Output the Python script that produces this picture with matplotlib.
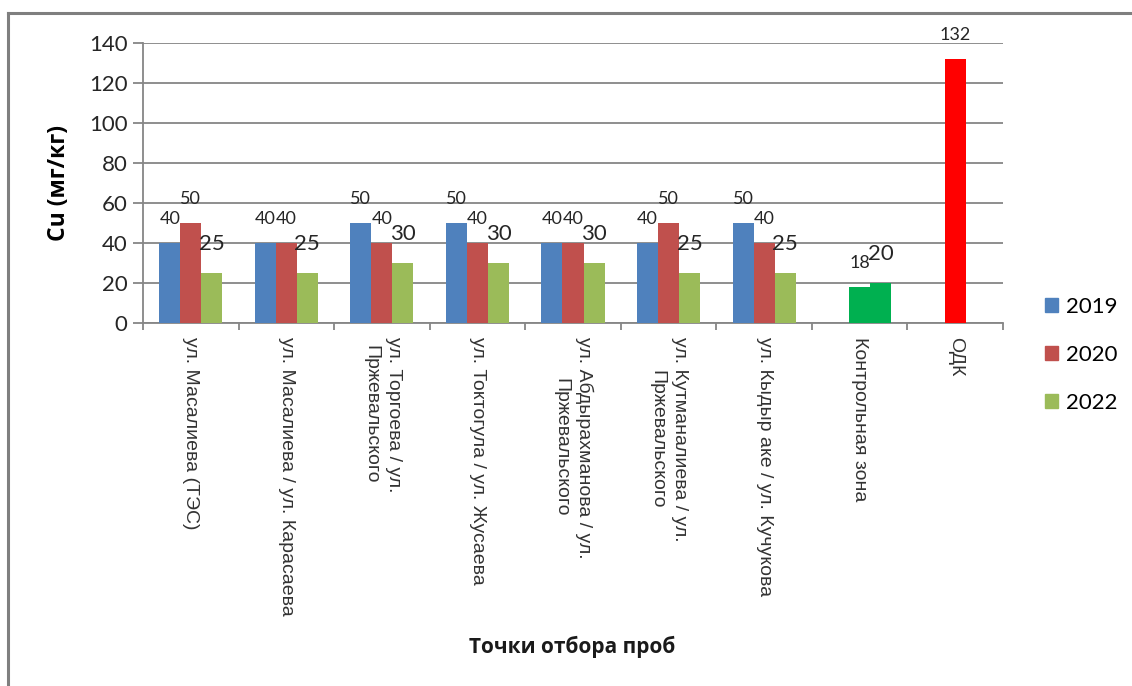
import numpy as np
import matplotlib.pyplot as plt
from matplotlib.lines import Line2D

# точки отбора проб и содержание меди по годам
points = ['ул. Масалиева (ТЭС)',
          'ул. Масалиева / ул. Карасаева',
          'ул. Торгоева / ул.\nПржевальского',
          'ул. Токтогула / ул. Жусаева',
          'ул. Абдырахманова / ул.\nПржевальского',
          'ул. Кутманалиева / ул.\nПржевальского',
          'ул. Кыдыр аке / ул. Кучукова',
          'Контрольная зона',
          'ОДК']
years = ['2019', '2020', '2022']
cu_2019 = [40, 40, 50, 50, 40, 40, 50, None, None]
cu_2020 = [50, 40, 40, 40, 40, 50, 40, 18, 132]
cu_2022 = [25, 25, 30, 30, 30, 25, 25, 20, None]

colors = ['#4F81BD', '#C0504D', '#9BBB59']
# отдельные цвета для контрольной зоны и ОДК
special = {(1, 7): '#00B050', (1, 8): '#FF0000', (2, 7): '#00B050'}
label_size = [13, 13, 16]

fig = plt.figure(figsize=(11.32, 6.86), dpi=100)
ax = fig.add_axes([143 / 1132, 1 - 323 / 686, 860 / 1132, 280 / 686])

x = np.arange(len(points))
w = 0.22
series = [cu_2019, cu_2020, cu_2022]
for i, vals in enumerate(series):
    xs = [x[j] + (i - 1) * w for j in range(len(vals)) if vals[j] is not None]
    hs = [v for v in vals if v is not None]
    cs = [special.get((i, j), colors[i]) for j in range(len(vals)) if vals[j] is not None]
    ax.bar(xs, hs, width=w, color=cs, label=years[i], zorder=3)
    for xi, h in zip(xs, hs):
        off = 17 if label_size[i] == 13 else 21
        ax.annotate(str(h), (xi, h), xytext=(0, off), textcoords='offset points',
                    ha='center', va='center', fontsize=label_size[i],
                    family='Lato', color='#262626', zorder=4)

ax.set_xlim(-0.5, len(points) - 0.5)
ax.set_ylim(0, 140)
ax.set_yticks(range(0, 141, 20))
ax.yaxis.grid(True, color='#868686', linewidth=1.3, zorder=0)
ax.set_axisbelow(True)

for s in ['top', 'right']:
    ax.spines[s].set_visible(False)
for s in ['left', 'bottom']:
    ax.spines[s].set_color('#868686')
    ax.spines[s].set_linewidth(1.3)

ax.tick_params(axis='y', length=7, width=1.3, color='#868686', labelsize=16, pad=4)
for t in ax.get_yticklabels():
    t.set_family('Lato')
    t.set_color('#262626')

ax.set_xticks(x)
ax.set_xticklabels(points, rotation=-90, va='top', ha='center', multialignment='center',
                   fontsize=14, family='Liberation Sans', color='#333333', linespacing=1.45)
ax.tick_params(axis='x', length=0, pad=10)
ax.set_xticks(np.arange(-0.5, len(points), 1), minor=True)
ax.tick_params(axis='x', which='minor', length=5, width=1.3, color='#868686')

ax.set_ylabel('Cu (мг/кг)', fontsize=16.5, fontweight='bold', family='Open Sans', labelpad=13)
fig.text(572 / 1132, 1 - 647 / 686, 'Точки отбора проб', fontsize=15, fontweight='bold',
         family='Open Sans', ha='center', va='center', color='#1a1a1a')

handles = [plt.Rectangle((0, 0), 1, 1, color=c) for c in colors]
fig.legend(handles, years, loc='center left', bbox_to_anchor=(1025 / 1132, 1 - 355 / 686),
           bbox_transform=fig.transFigure, frameon=False, prop={'family': 'Lato', 'size': 16},
           handlelength=0.6, handleheight=0.6, handletextpad=0.35, labelspacing=1.25)

# рамка вокруг диаграммы
fig.add_artist(Line2D([8 / 1132, 8 / 1132], [0, 1 - 13 / 686], color='#7f7f7f', linewidth=2.2))
fig.add_artist(Line2D([8 / 1132, 1], [1 - 13 / 686, 1 - 13 / 686], color='#7f7f7f', linewidth=2.2))

fig.savefig('out.png', dpi=100)
